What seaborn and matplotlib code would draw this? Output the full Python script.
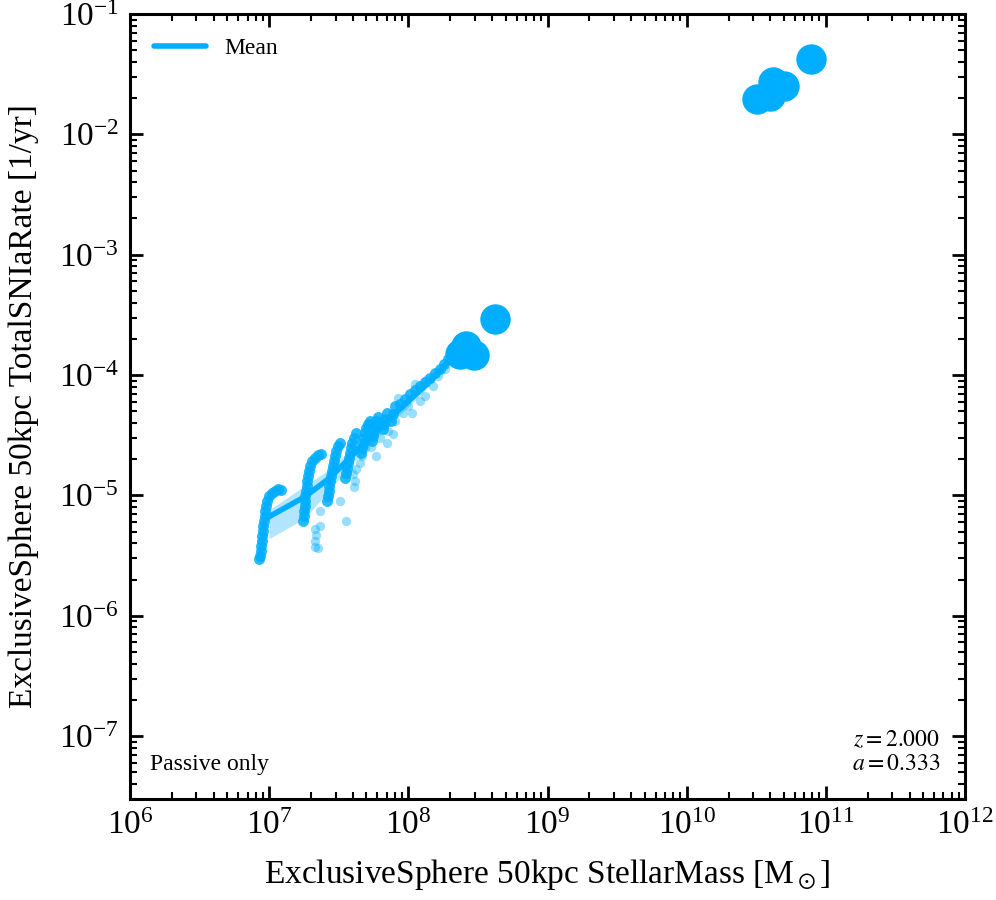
import numpy as np
import pandas as pd
import matplotlib
matplotlib.use("Agg")
import matplotlib.pyplot as plt
import seaborn as sns

# values, stored as log10(mass / Msun) and log10(rate / yr^-1)
# dense vertical streaks of passive galaxies
streak_logm = [
    6.927, 6.934, 6.941, 6.941, 6.948, 6.948, 6.956, 6.956, 6.963, 6.970, 6.970, 6.977, 6.984, 6.999, 7.020, 7.042, 7.063, 7.085,
    7.243, 7.247, 7.250, 7.254, 7.257, 7.261, 7.265, 7.272, 7.272, 7.279, 7.286, 7.293, 7.308, 7.329, 7.351, 7.372,
    7.416, 7.423, 7.430, 7.430, 7.437, 7.444, 7.451, 7.459, 7.466, 7.473, 7.480, 7.495, 7.509,
    7.545, 7.552, 7.559, 7.566, 7.574, 7.581, 7.588, 7.595, 7.610, 7.624,
    7.660, 7.667, 7.674, 7.681, 7.689, 7.696, 7.710, 7.724,
    7.739, 7.746, 7.753, 7.760, 7.768, 7.782,
    7.818, 7.825, 7.832, 7.847,
    7.875, 7.890, 7.904,
    7.940, 7.976, 8.012, 8.048, 8.084, 8.120, 8.156, 8.192, 8.228, 8.256, 8.285, 8.314,
]
streak_logr = [
    -5.527, -5.502, -5.460, -5.419, -5.377, -5.335, -5.294, -5.252, -5.211, -5.169, -5.127, -5.086, -5.044, -5.003, -4.978, -4.961, -4.944, -4.953,
    -5.211, -5.169, -5.127, -5.086, -5.044, -5.003, -4.961, -4.919, -4.878, -4.836, -4.795, -4.753, -4.711, -4.686, -4.661, -4.653,
    -5.044, -5.003, -4.961, -4.919, -4.878, -4.836, -4.795, -4.753, -4.711, -4.670, -4.628, -4.587, -4.562,
    -4.853, -4.811, -4.770, -4.728, -4.686, -4.645, -4.603, -4.562, -4.520, -4.478,
    -4.645, -4.603, -4.562, -4.520, -4.478, -4.437, -4.404, -4.379,
    -4.545, -4.503, -4.462, -4.420, -4.379, -4.345,
    -4.445, -4.404, -4.362, -4.312,
    -4.379, -4.320, -4.254,
    -4.237, -4.195, -4.154, -4.121, -4.087, -4.054, -4.021, -3.979, -3.946, -3.904, -3.863, -3.821,
]

# sparser outliers around the streaks
scatter_logm = [
    7.329, 7.337, 7.329, 7.329, 7.351, 7.365, 7.365, 7.423, 7.509, 7.552,
    7.602, 7.617, 7.610, 7.624, 7.667, 7.689, 7.732, 7.768, 7.732, 7.847,
    7.890, 7.854, 7.926, 7.962, 8.026, 8.048, 8.084, 8.134, 8.177, 8.213,
    8.263, 7.904, 7.998, 8.120, 7.796, 7.653,
]
scatter_logr = [
    -5.277, -5.327, -5.377, -5.427, -5.435, -5.252, -5.127, -5.003, -5.044, -5.211,
    -4.820, -4.878, -4.928, -4.778, -4.670, -4.603, -4.595, -4.670, -4.503, -4.562,
    -4.487, -4.462, -4.187, -4.312, -4.312, -4.071, -4.212, -4.029, -4.087, -4.004,
    -3.946, -4.379, -4.254, -4.171, -4.520, -4.728,
]

# individually highlighted massive galaxies
big_mass = [4.2e8, 2.6e8, 2.97e8, 2.35e8, 7.8e10, 4.17e10, 5.0e10, 3.2e10, 3.96e10]
big_rate = [2.95e-4, 1.73e-4, 1.48e-4, 1.51e-4, 4.2e-2, 2.7e-2, 2.5e-2, 1.96e-2, 2.07e-2]

# binned mean and its spread
mean_logm = [6.999, 7.257, 7.437, 7.595, 7.739, 7.904, 8.084, 8.228, 8.314]
mean_logr = [-5.177, -5.011, -4.853, -4.670, -4.503, -4.320, -4.129, -3.963, -3.854]
band_lo = [-5.36, -5.19, -4.95, -4.74, -4.56, -4.37, -4.17, -3.99, -3.88]
band_hi = [-5.12, -4.92, -4.78, -4.61, -4.45, -4.27, -4.09, -3.94, -3.83]

blue = "#00aeff"

sns.set_style("ticks")
plt.rcParams["font.family"] = ["Liberation Serif", "DejaVu Serif"]
plt.rcParams["mathtext.fontset"] = "stix"
for key in ["text.color", "axes.labelcolor", "axes.edgecolor", "xtick.color", "ytick.color"]:
    plt.rcParams[key] = "black"

streaks = pd.DataFrame({"mass": 10.0 ** np.array(streak_logm), "rate": 10.0 ** np.array(streak_logr)})
outliers = pd.DataFrame({"mass": 10.0 ** np.array(scatter_logm), "rate": 10.0 ** np.array(scatter_logr)})
big = pd.DataFrame({"mass": big_mass, "rate": big_rate})
mean = pd.DataFrame({"mass": 10.0 ** np.array(mean_logm), "rate": 10.0 ** np.array(mean_logr)})

fig = plt.figure(figsize=(9.96, 9.0), dpi=100)
ax = fig.add_axes([0.1305, 0.1122, 0.8384, 0.8722])
ax.set_xscale("log")
ax.set_yscale("log")

ax.fill_between(mean["mass"], 10.0 ** np.array(band_lo), 10.0 ** np.array(band_hi),
                color=blue, alpha=0.3, lw=0, zorder=1)
sns.lineplot(data=mean, x="mass", y="rate", ax=ax, color=blue, lw=4, label="Mean",
             sort=False, zorder=2)
sns.scatterplot(data=outliers, x="mass", y="rate", ax=ax, color=blue, s=45, alpha=0.4,
                linewidth=0, legend=False, zorder=3)
sns.scatterplot(data=streaks, x="mass", y="rate", ax=ax, color=blue, s=62, alpha=0.85,
                linewidth=0, legend=False, zorder=3)
sns.scatterplot(data=big, x="mass", y="rate", ax=ax, color=blue, s=480, alpha=1.0,
                linewidth=0, legend=False, zorder=4)

ax.set_xlim(1e6, 1e12)
ax.set_ylim(3e-8, 1e-1)
ax.set_xlabel(r"ExclusiveSphere 50kpc StellarMass [M$_\odot$]", fontsize=24, labelpad=12)
ax.set_ylabel("ExclusiveSphere 50kpc TotalSNIaRate [1/yr]", fontsize=24, labelpad=14)

for s in ax.spines.values():
    s.set_linewidth(2.2)
    s.set_color("black")
ax.tick_params(which="both", direction="in", top=True, right=True)
ax.tick_params(which="major", length=9.5, width=2, labelsize=24, pad=8)
ax.tick_params(which="minor", length=5, width=1.5)

ax.legend(loc="upper left", frameon=False, fontsize=17, handlelength=2.2,
          borderaxespad=0.6)
ax.text(0.024, 0.03, "Passive only", transform=ax.transAxes, fontsize=17,
        ha="left", va="bottom")
ax.text(0.97, 0.03, "$z = 2.000$\n$a = 0.333$", transform=ax.transAxes, fontsize=17,
        ha="right", va="bottom", multialignment="right")

fig.savefig("out.png", dpi=100)
